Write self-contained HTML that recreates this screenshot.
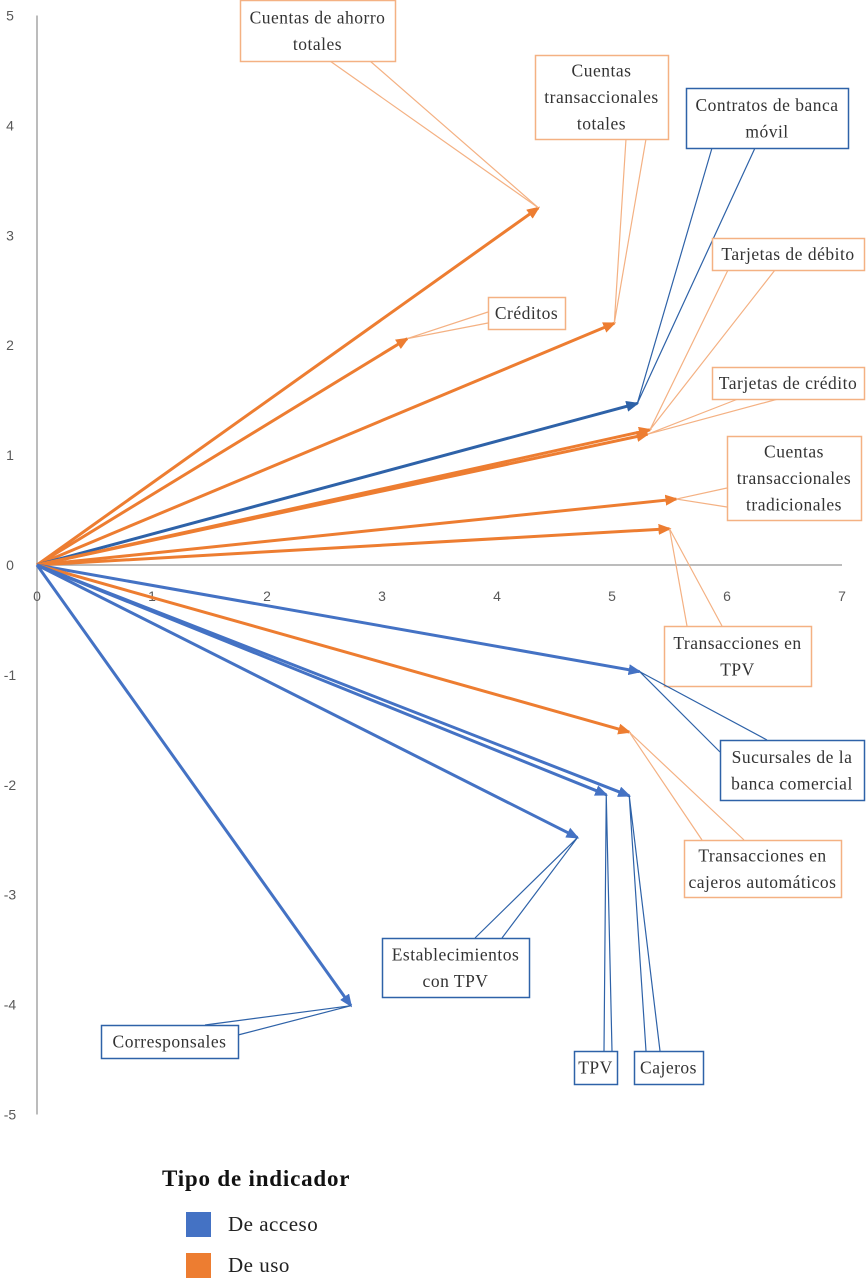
<!DOCTYPE html>
<html><head><meta charset="utf-8"><style>
body{margin:0;background:#fff;}
svg{display:block;font-family:"Liberation Serif",serif;}
</style></head><body>
<svg id="chart" width="867" height="1279" xmlns="http://www.w3.org/2000/svg">
<defs>
<marker id="ao" markerWidth="13" markerHeight="11" refX="11" refY="5.5" orient="auto" markerUnits="userSpaceOnUse" viewBox="0 0 13 11"><path d="M0,0 L13,5.5 L0,11 Z" fill="#ed7d31"/></marker>
<marker id="ab" markerWidth="13" markerHeight="11" refX="11" refY="5.5" orient="auto" markerUnits="userSpaceOnUse" viewBox="0 0 13 11"><path d="M0,0 L13,5.5 L0,11 Z" fill="#4472c4"/></marker>
<marker id="ad" markerWidth="13" markerHeight="11" refX="11" refY="5.5" orient="auto" markerUnits="userSpaceOnUse" viewBox="0 0 13 11"><path d="M0,0 L13,5.5 L0,11 Z" fill="#2e62a8"/></marker>
</defs>
<g id="axes"></g><g id="vectors"></g><g id="callouts"></g>
<g>
<text x="162" y="1186" font-size="23" font-weight="bold" fill="#111" letter-spacing="0.8">Tipo de indicador</text>
<rect x="186" y="1212" width="25" height="25" fill="#4472c4"/>
<text x="228" y="1231" font-size="21" fill="#222" letter-spacing="0.5">De acceso</text>
<rect x="186" y="1253" width="25" height="25" fill="#ed7d31"/>
<text x="228" y="1272" font-size="21" fill="#222" letter-spacing="0.5">De uso</text>
</g>
</svg>
<script>
const labels=["Cuentas de ahorro totales","Créditos","Cuentas transaccionales totales","Contratos de banca móvil","Tarjetas de débito","Tarjetas de crédito","Cuentas transaccionales tradicionales","Transacciones en TPV","Sucursales de la banca comercial","Transacciones en cajeros automáticos","TPV","Cajeros","Establecimientos con TPV","Corresponsales"];
const xValues=[4.36,3.22,5.02,5.22,5.33,5.31,5.56,5.5,5.24,5.15,4.95,5.15,4.7,2.73];
const yValues=[3.25,2.06,2.2,1.47,1.23,1.19,0.6,0.33,-0.97,-1.52,-2.09,-2.1,-2.48,-4.01];
const types=["uso","uso","uso","movil","uso","uso","uso","uso","acceso","uso","acceso","acceso","acceso","acceso"];
const xTicks=[0,1,2,3,4,5,6,7];
const yTicks=[5,4,3,2,1,0,-1,-2,-3,-4,-5];
const boxes=[[240,0,155,61],[488,297,77,32],[535,55,133,84],[686,88,162,60],[712,238,152,32],[712,367,152,32],[727,436,134,84],[664,626,147,60],[720,740,144,60],[684,840,157,57],[574,1051,43,33],[634,1051,69,33],[382,938,147,59],[101,1025,137,33]];
const lines=[["Cuentas de ahorro","totales"],["Créditos"],["Cuentas","transaccionales","totales"],["Contratos de banca","móvil"],["Tarjetas de débito"],["Tarjetas de crédito"],["Cuentas","transaccionales","tradicionales"],["Transacciones en","TPV"],["Sucursales de la","banca comercial"],["Transacciones en","cajeros automáticos"],["TPV"],["Cajeros"],["Establecimientos","con TPV"],["Corresponsales"]];
const wedges=[[330,61,370,61],[488,312,488,323],[626,139,646,139],[712,148,755,148],[728,270,775,270],[738,399,778,399],[727,488,727,507],[687,626,722,626],[720,752,767,740],[702,840,744,840],[604,1051,612,1051],[646,1051,660,1051],[475,938,502,938],[205,1025,238,1035]];
const X0=37,XS=115,Y0=565,YS=109.9;
const sx=v=>X0+v*XS, sy=v=>Y0-v*YS;
const NS="http://www.w3.org/2000/svg";
function mk(t,a,p){const e=document.createElementNS(NS,t);for(const k in a)e.setAttribute(k,a[k]);p.appendChild(e);return e;}
const ax=document.getElementById('axes');
let e=mk('line',{x1:X0,y1:sy(5),x2:X0,y2:sy(-5),stroke:'#a6a6a6','stroke-width':1.5},ax);


e=mk('line',{x1:X0,y1:Y0,x2:sx(7),y2:Y0,stroke:'#a6a6a6','stroke-width':1.5},ax);


xTicks.forEach(t=>{const el=mk('text',{x:sx(t),y:Y0+36,'font-size':14,fill:'#595959','text-anchor':'middle','font-family':'Liberation Sans, sans-serif'},ax);el.textContent=t;

});
yTicks.forEach(t=>{const el=mk('text',{x:10,y:sy(t)+5,'font-size':14,fill:'#595959','text-anchor':'middle','font-family':'Liberation Sans, sans-serif'},ax);el.textContent=t;

});
const vg=document.getElementById('vectors'),cg=document.getElementById('callouts');
labels.forEach((lab,i)=>{
 const col=types[i]==='uso'?'#ed7d31':types[i]==='movil'?'#2e62a8':'#4472c4';
 const mid=types[i]==='uso'?'ao':types[i]==='movil'?'ad':'ab';
 const tx=sx(xValues[i]),ty=sy(yValues[i]);
 const v=mk('line',{x1:X0,y1:Y0,x2:tx,y2:ty,stroke:col,'stroke-width':3,'marker-end':'url(#'+mid+')'},vg);
 
 
 const bc=types[i]==='uso'?'#f4b183':'#2e62a8';
 const g=mk('g',{},cg);
 
 
 const w=wedges[i];
 mk('polyline',{points:`${w[0]},${w[1]} ${tx},${ty} ${w[2]},${w[3]}`,fill:'none',stroke:bc,'stroke-width':1.2},g);
 const b=boxes[i];
 mk('rect',{x:b[0]+0.5,y:b[1]+0.5,width:b[2],height:b[3],fill:'#fff',stroke:bc,'stroke-width':1.5},g);
 const L=lines[i],lh=26.5,start=b[1]+b[3]/2-(L.length-1)*lh/2+6;
 L.forEach((s,k)=>{const t=mk('text',{x:b[0]+b[2]/2,y:start+k*lh,'font-size':17.5,fill:'#333','text-anchor':'middle','letter-spacing':0.5},g);t.textContent=s;});
});
</script>
</body></html>
